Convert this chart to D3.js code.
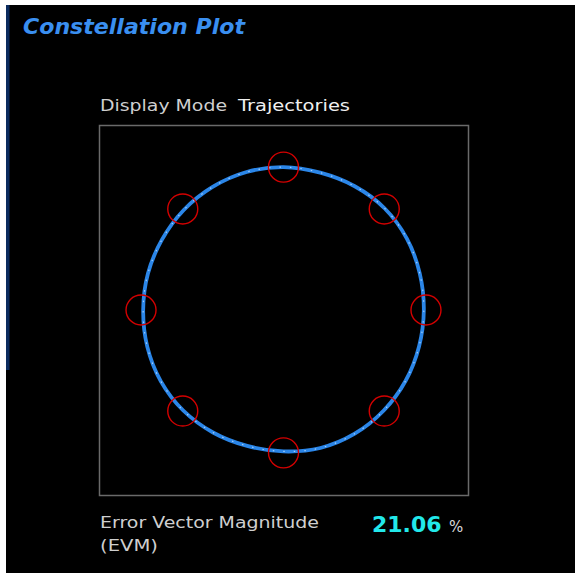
<!DOCTYPE html>
<html><head><meta charset="utf-8">
<script src="https://cdn.jsdelivr.net/npm/d3@7"></script>
<style>html,body{margin:0;padding:0;background:#fff;}svg{display:block;}</style>
</head><body>
<svg id="c" width="575" height="573"></svg>
<script>
// ---- data ----
const title = "Constellation Plot";
const modeLabel = "Display Mode";
const modeValue = "Trajectories";
const evmLabel = ["Error Vector Magnitude", "(EVM)"];
const evmValue = "21.06";
const evmUnit = "%";
// ideal 8-PSK symbol locations (angle in degrees, magnitude)
const symbolAngleDeg = [0, 45, 90, 135, 180, 225, 270, 315];
const symbolMag = [1, 1, 1, 1, 1, 1, 1, 1];
// trajectory samples (angle in degrees, magnitude)
const trajAngleDeg = [0, 15, 30, 45, 60, 75, 90, 105, 120, 135, 150, 165, 180, 195, 210, 225, 240, 255, 270, 285, 300, 315, 330, 345];
const trajMag = [0.985, 0.99, 1.0, 1.005, 1.0, 0.995, 1.0, 1.0, 0.995, 0.99, 0.985, 0.985, 0.985, 0.99, 0.995, 0.995, 0.99, 0.985, 0.99, 1.0, 1.0, 0.995, 0.99, 0.985];

// ---- drawing ----
const svg = d3.select("#c");
svg.append("rect").attr("x", 6).attr("y", 5).attr("width", 569).attr("height", 568).attr("fill", "#000");
svg.append("rect").attr("x", 6).attr("y", 5).attr("width", 3.5).attr("height", 365).attr("fill", "#0b2b5e");

svg.append("text").attr("x", 23).attr("y", 34).text(title)
  .attr("font-family", "DejaVu Sans").attr("font-weight", "bold").attr("font-style", "italic")
  .attr("font-size", 21).attr("fill", "#3a8ff0").attr("textLength", 222).attr("lengthAdjust", "spacingAndGlyphs");

svg.append("text").attr("x", 100).attr("y", 111).text(modeLabel)
  .attr("font-family", "DejaVu Sans").attr("font-size", 16).attr("fill", "#cfcfcf")
  .attr("textLength", 127).attr("lengthAdjust", "spacingAndGlyphs");
svg.append("text").attr("x", 238).attr("y", 111).text(modeValue)
  .attr("font-family", "DejaVu Sans").attr("font-size", 16).attr("fill", "#f0f0f0")
  .attr("textLength", 112).attr("lengthAdjust", "spacingAndGlyphs");

const x0 = 99, x1 = 468, y0 = 125, y1 = 495;
const x = d3.scaleLinear().domain([-1.295, 1.295]).range([x0, x1]);
const y = d3.scaleLinear().domain([-1.295, 1.295]).range([y1, y0]);

svg.append("rect").attr("x", x0 + 0.5).attr("y", y0 + 0.5).attr("width", x1 - x0).attr("height", y1 - y0)
  .attr("fill", "none").attr("stroke", "#6a6a6a").attr("stroke-width", 1.5);

const traj = trajAngleDeg.map((a, i) => [trajMag[i] * Math.cos(a * Math.PI / 180), trajMag[i] * Math.sin(a * Math.PI / 180)]);
const line = d3.line().x(d => x(d[0])).y(d => y(d[1])).curve(d3.curveCatmullRomClosed);
svg.append("path").attr("d", line(traj)).attr("fill", "none").attr("stroke", "#2b86e8").attr("stroke-width", 3.8);
svg.append("path").attr("d", line(traj)).attr("fill", "none").attr("stroke", "#bfe0ff").attr("stroke-width", 1.2)
  .attr("stroke-dasharray", "1.5 9").attr("opacity", 0.8);

const syms = symbolAngleDeg.map((a, i) => [symbolMag[i] * Math.cos(a * Math.PI / 180), symbolMag[i] * Math.sin(a * Math.PI / 180)]);
svg.selectAll("circle.sym").data(syms).join("circle").attr("class", "sym")
  .attr("cx", d => x(d[0])).attr("cy", d => y(d[1])).attr("r", 15)
  .attr("fill", "none").attr("stroke", "#d40000").attr("stroke-width", 1.4);

svg.append("text").attr("x", 100).attr("y", 528).text(evmLabel[0])
  .attr("font-family", "DejaVu Sans").attr("font-size", 15).attr("fill", "#cfcfcf")
  .attr("textLength", 219).attr("lengthAdjust", "spacingAndGlyphs");
svg.append("text").attr("x", 100).attr("y", 551).text(evmLabel[1])
  .attr("font-family", "DejaVu Sans").attr("font-size", 15).attr("fill", "#cfcfcf")
  .attr("textLength", 58).attr("lengthAdjust", "spacingAndGlyphs");
svg.append("text").attr("x", 372).attr("y", 532).text(evmValue)
  .attr("font-family", "DejaVu Sans").attr("font-weight", "bold").attr("font-size", 22).attr("fill", "#22e8ea");
svg.append("text").attr("x", 449).attr("y", 532).text(evmUnit)
  .attr("font-family", "DejaVu Sans").attr("font-size", 15).attr("fill", "#d8d8d8");
</script>
</body></html>
